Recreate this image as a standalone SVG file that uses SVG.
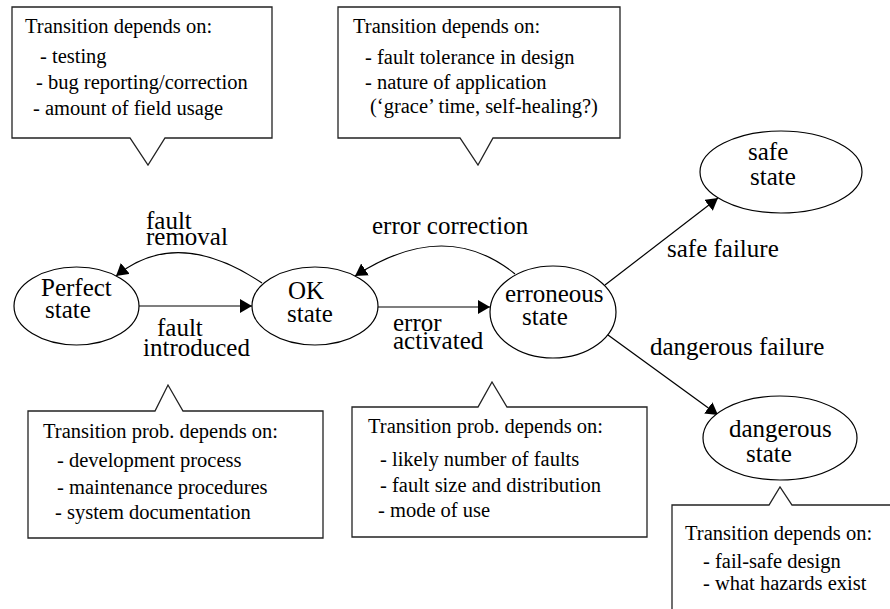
<svg xmlns="http://www.w3.org/2000/svg" width="890" height="609" viewBox="0 0 890 609">
<defs>
<marker id="arr" markerUnits="userSpaceOnUse" markerWidth="13" markerHeight="15" refX="12" refY="7" orient="auto">
<path d="M0,0 L12,7 L0,14 Z" fill="#000"/>
</marker>
</defs>
<style>
.node{fill:#fff;stroke:#000;stroke-width:1.2}
.call{fill:#fff;stroke:#222;stroke-width:1.3}
.edge{fill:none;stroke:#000;stroke-width:1.2}
</style>
<rect width="890" height="609" fill="#fff"/>

<g id="callout-top-left">
<path class="call" d="M12,7 H272 V138 H165 L148,165 L130,138 H12 Z"/>
<text font-family="Liberation Serif" style="font-family:'Liberation Serif'" font-size="20.5" x="25" y="33">Transition depends on:</text>
<text font-family="Liberation Serif" style="font-family:'Liberation Serif'" font-size="20.5" x="40" y="63">- testing</text>
<text font-family="Liberation Serif" style="font-family:'Liberation Serif'" font-size="20.5" x="36" y="89">- bug reporting/correction</text>
<text font-family="Liberation Serif" style="font-family:'Liberation Serif'" font-size="20.5" x="33" y="115">- amount of field usage</text>
</g>

<g id="callout-top-middle">
<path class="call" d="M338,7 H620 V138 H493 L478,165 L460,138 H338 Z"/>
<text font-family="Liberation Serif" style="font-family:'Liberation Serif'" font-size="20.5" x="353" y="33">Transition depends on:</text>
<text font-family="Liberation Serif" style="font-family:'Liberation Serif'" font-size="20.5" x="365" y="64">- fault tolerance in design</text>
<text font-family="Liberation Serif" style="font-family:'Liberation Serif'" font-size="20.5" x="365" y="89">- nature of application</text>
<text font-family="Liberation Serif" style="font-family:'Liberation Serif'" font-size="20.5" x="370" y="113">(‘grace’ time, self-healing?)</text>
</g>

<g id="callout-bottom-left">
<path class="call" d="M28,411 H155 L168,385 L183,411 H323 V538 H28 Z"/>
<text font-family="Liberation Serif" style="font-family:'Liberation Serif'" font-size="20.5" x="43" y="438">Transition prob. depends on:</text>
<text font-family="Liberation Serif" style="font-family:'Liberation Serif'" font-size="20.5" x="57" y="467">- development process</text>
<text font-family="Liberation Serif" style="font-family:'Liberation Serif'" font-size="20.5" x="57" y="494">- maintenance procedures</text>
<text font-family="Liberation Serif" style="font-family:'Liberation Serif'" font-size="20.5" x="55" y="519">- system documentation</text>
</g>

<g id="callout-bottom-middle">
<path class="call" d="M352,407 H478 L492,382 L507,407 H647 V537 H352 Z"/>
<text font-family="Liberation Serif" style="font-family:'Liberation Serif'" font-size="20.5" x="368" y="433">Transition prob. depends on:</text>
<text font-family="Liberation Serif" style="font-family:'Liberation Serif'" font-size="20.5" x="380" y="466">- likely number of faults</text>
<text font-family="Liberation Serif" style="font-family:'Liberation Serif'" font-size="20.5" x="380" y="492">- fault size and distribution</text>
<text font-family="Liberation Serif" style="font-family:'Liberation Serif'" font-size="20.5" x="378" y="517">- mode of use</text>
</g>

<g id="callout-bottom-right">
<path class="call" d="M672,615 V505 H769 L780,487 L792,505 H896 V615 Z"/>
<text font-family="Liberation Serif" style="font-family:'Liberation Serif'" font-size="20.5" x="685" y="540">Transition depends on:</text>
<text font-family="Liberation Serif" style="font-family:'Liberation Serif'" font-size="20.5" x="703" y="568">- fail-safe design</text>
<text font-family="Liberation Serif" style="font-family:'Liberation Serif'" font-size="20.5" x="703" y="590">- what hazards exist</text>
</g>

<g id="connectors">
<path class="edge" marker-end="url(#arr)" d="M139,306 H252"/>
<path class="edge" marker-end="url(#arr)" d="M378,307 H490"/>
<path class="edge" marker-end="url(#arr)" d="M262,283 Q177,226 116,276"/>
<path class="edge" marker-end="url(#arr)" d="M515,274 Q445,217 355,276"/>
<path class="edge" marker-end="url(#arr)" d="M605,285 L718,198"/>
<path class="edge" marker-end="url(#arr)" d="M608,335 L718,415"/>
</g>

<g id="edge-labels">
<text font-family="Liberation Serif" style="font-family:'Liberation Serif'" font-size="25" x="146" y="229">fault</text>
<text font-family="Liberation Serif" style="font-family:'Liberation Serif'" font-size="25" x="146" y="245">removal</text>
<text font-family="Liberation Serif" style="font-family:'Liberation Serif'" font-size="25" x="157" y="336">fault</text>
<text font-family="Liberation Serif" style="font-family:'Liberation Serif'" font-size="25" x="143" y="356">introduced</text>
<text font-family="Liberation Serif" style="font-family:'Liberation Serif'" font-size="25" x="372" y="234">error correction</text>
<text font-family="Liberation Serif" style="font-family:'Liberation Serif'" font-size="25" x="393" y="331">error</text>
<text font-family="Liberation Serif" style="font-family:'Liberation Serif'" font-size="25" x="393" y="349">activated</text>
<text font-family="Liberation Serif" style="font-family:'Liberation Serif'" font-size="25" x="667" y="257">safe failure</text>
<text font-family="Liberation Serif" style="font-family:'Liberation Serif'" font-size="25" x="650" y="355">dangerous failure</text>
</g>

<g id="node-perfect">
<ellipse class="node" cx="76.5" cy="306" rx="62.5" ry="39"/>
<text font-family="Liberation Serif" style="font-family:'Liberation Serif'" font-size="25" x="41" y="296">Perfect</text>
<text font-family="Liberation Serif" style="font-family:'Liberation Serif'" font-size="25" x="45" y="318">state</text>
</g>

<g id="node-ok">
<ellipse class="node" cx="315" cy="306" rx="63" ry="39"/>
<text font-family="Liberation Serif" style="font-family:'Liberation Serif'" font-size="25" x="288" y="299">OK</text>
<text font-family="Liberation Serif" style="font-family:'Liberation Serif'" font-size="25" x="287" y="322">state</text>
</g>

<g id="node-erroneous">
<ellipse class="node" cx="553" cy="312" rx="63" ry="46"/>
<text font-family="Liberation Serif" style="font-family:'Liberation Serif'" font-size="25" x="505" y="302">erroneous</text>
<text font-family="Liberation Serif" style="font-family:'Liberation Serif'" font-size="25" x="522" y="325">state</text>
</g>

<g id="node-safe">
<ellipse class="node" cx="781" cy="172" rx="81" ry="41"/>
<text font-family="Liberation Serif" style="font-family:'Liberation Serif'" font-size="25" x="748" y="160">safe</text>
<text font-family="Liberation Serif" style="font-family:'Liberation Serif'" font-size="25" x="750" y="185">state</text>
</g>

<g id="node-dangerous">
<ellipse class="node" cx="780" cy="438" rx="77" ry="42"/>
<text font-family="Liberation Serif" style="font-family:'Liberation Serif'" font-size="25" x="729" y="437">dangerous</text>
<text font-family="Liberation Serif" style="font-family:'Liberation Serif'" font-size="25" x="746" y="462">state</text>
</g>
</svg>
